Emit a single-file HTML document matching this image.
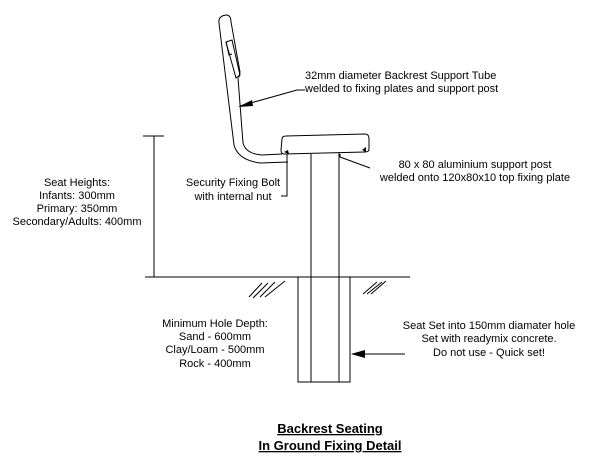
<!DOCTYPE html>
<html><head><style>
html,body{margin:0;padding:0;background:#fff;}
svg{display:block;}
text{font-family:"Liberation Sans",sans-serif;font-size:11px;fill:#000;}
</style></head><body>
<svg width="600" height="475" viewBox="0 0 600 475" xmlns="http://www.w3.org/2000/svg">
<g fill="none" stroke="#000" stroke-width="1">
<!-- backrest -->
<path d="M219,23 Q218,16 226,15 Q231,15 231,22 L240,72 L239,77 L237,77"/>
<path d="M219,23 L234,145 Q238,160 260,163 L288,162"/>
<path d="M226,42 L232,40 L240,75 L236,78 Z"/>
<path d="M226,42 L229,55 L232,54"/>
<path d="M238,78 L243,143 Q246,154 262,155 L282,154"/>
<!-- seat -->
<path d="M282,139 Q282,136 286,136 L365,134 Q369,134 369,139 L369,149 Q369,152 365,152 L284,154 Q281,154 281,150 Z"/>
<!-- post -->
<line x1="311" y1="154" x2="311" y2="382"/>
<line x1="339" y1="153" x2="339" y2="382"/>
<!-- hole -->
<path d="M298,277 L298,382 L350,382 L350,277"/>
<!-- ground -->
<line x1="145" y1="277" x2="410" y2="277"/>
<!-- dimension -->
<line x1="154" y1="136" x2="154" y2="277"/>
<line x1="143" y1="136" x2="164" y2="136"/>
<!-- bolt leader -->
<path d="M287,154 L287,196 L281,196"/>
<!-- post leader -->
<path d="M340,154 L340,157 L370,168"/>
<!-- backrest leader -->
<path d="M240,106 L297,90 L305,90"/>
<!-- concrete arrow -->
<line x1="352" y1="354" x2="405" y2="354"/>
<!-- hatches -->
<path d="M249,297 L262,283 M253,298 L268,283 M260,297 L275,282 M265,297 L285,281"/>
<path d="M363,294 L377,282 M367,294 L382,282 M371,294 L386,281"/>
</g>
<polygon points="238,107 252,100 253,106" fill="#000"/>
<polygon points="351,354 365,350 365,358" fill="#000"/>
<polygon points="284,152 288,150 289,154" fill="#000"/>
<polygon points="362,150 366,147 366,152" fill="#000"/>
<text x="305" y="79">32mm diameter Backrest Support Tube</text>
<text x="305" y="92">welded to fixing plates and support post</text>
<text x="475" y="168" text-anchor="middle">80 x 80 aluminium support post</text>
<text x="475" y="181" text-anchor="middle">welded onto 120x80x10 top fixing plate</text>
<text x="77" y="186" text-anchor="middle">Seat Heights:</text>
<text x="77" y="199" text-anchor="middle">Infants: 300mm</text>
<text x="77" y="212" text-anchor="middle">Primary: 350mm</text>
<text x="77" y="225" text-anchor="middle">Secondary/Adults: 400mm</text>
<text x="233" y="186" text-anchor="middle">Security Fixing Bolt</text>
<text x="233" y="200" text-anchor="middle">with internal nut</text>
<text x="215" y="327" text-anchor="middle">Minimum Hole Depth:</text>
<text x="215" y="340" text-anchor="middle">Sand - 600mm</text>
<text x="215" y="353" text-anchor="middle">Clay/Loam - 500mm</text>
<text x="215" y="367" text-anchor="middle">Rock - 400mm</text>
<text x="489" y="329" text-anchor="middle">Seat Set into 150mm diamater hole</text>
<text x="489" y="342" text-anchor="middle">Set with readymix concrete.</text>
<text x="489" y="356" text-anchor="middle">Do not use - Quick set!</text>
<text x="330" y="433" text-anchor="middle" style="font-size:13px;font-weight:bold;text-decoration:underline">Backrest Seating</text>
<text x="330" y="450" text-anchor="middle" style="font-size:13px;font-weight:bold;text-decoration:underline">In Ground Fixing Detail</text>
</svg>
</body></html>
